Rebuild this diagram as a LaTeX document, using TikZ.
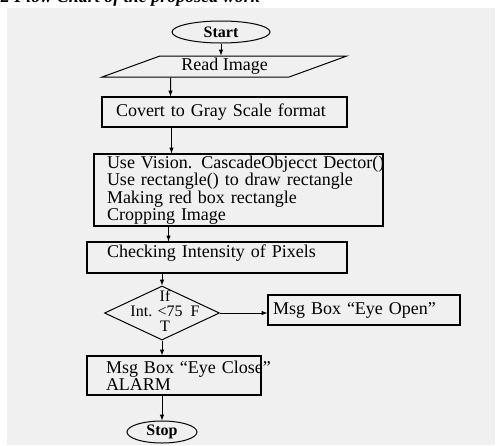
\documentclass[tikz,border=0pt]{standalone}
\usepackage{fontspec}
\setmainfont{Liberation Serif}
\usetikzlibrary{shapes.geometric}
\definecolor{panel}{RGB}{240,240,240}
\tikzset{
  terminal/.style={draw, ellipse, inner sep=0pt, font=\fontsize{16}{16}\selectfont\bfseries},
  inout/.style={draw, trapezium, trapezium left angle=23, trapezium right angle=157,
    trapezium stretches=true, inner sep=0pt, font=\fontsize{18}{14}\selectfont},
  process/.style={draw, rectangle, line width=1.2pt, align=left, inner ysep=0pt,
    font=\fontsize{18}{14}\selectfont},
  decision/.style={draw, diamond, inner sep=0pt},
}

\begin{document}
\begin{tikzpicture}[x=1pt, y=-1pt, >=latex, line width=1pt]
      \useasboundingbox (0,0) rectangle (503,445);
      \fill[panel] (7,8) rectangle (495,445);
      \node [anchor=base west, font=\fontsize{18}{18}\selectfont\bfseries\itshape] (0) at (-3,2) {2 Flow Chart of the proposed work};

      \node [terminal, minimum width=98pt, minimum height=22pt] (1) at (221,32) {Start};
      \node [inout, minimum width=245pt, minimum height=21pt] (2) at (224.5,66.5) {Read Image};
      \node [process, minimum height=30pt, inner xsep=14pt, text width=217pt] (3) at (224.5,112) {\mbox{Covert to Gray Scale format}};
      \node [process, minimum height=72pt, inner xsep=13pt, text width=263pt] (4) at (238.5,190)
        {\mbox{Use Vision. CascadeObjecct Dector()}\\Use rectangle() to draw rectangle\\Making red box rectangle\\Cropping Image};
      \node [process, minimum height=31pt, inner xsep=20pt, text width=220pt, text depth=12pt] (5) at (217,257.5) {Checking Intensity of Pixels};
      \node [decision, minimum width=115pt, minimum height=54pt] (6) at (162,313) {};
      \node [align=center, font=\fontsize{16}{15}\selectfont] (6a) at (165,311) {If\\Int. <75\enspace F\\T};
      \node [process, minimum height=30pt, inner xsep=5pt, text width=182pt] (7) at (364,310) {Msg Box “Eye Open”};
      \node [process, minimum height=39pt, inner xsep=19pt, text width=136pt] (8) at (174,375.5) {\mbox{Msg Box “Eye Close”}\\ALARM};
      \node [terminal, minimum width=70pt, minimum height=22pt] (9) at (162,432) {Stop};

      \draw[->] (1) -- (1 |- 2.north);
      \draw[->] ([xshift=-54pt]2.south) -- ([xshift=-54pt]3.north);
      \draw[->] ([xshift=-53pt]3.south) -- ([xshift=-53pt]3.south |- 4.north);
      \draw[->] ([xshift=-70pt]4.south) -- ([xshift=-70pt]4.south |- 5.north);
      \draw[->] (6.north |- 5.south) -- (6.north);
      \draw[->] (6.east) -- (6.east -| 7.west);
      \draw[->] (6.south) -- (6.south |- 8.north);
      \draw[->] (9.north |- 8.south) -- (9.north);
    \end{tikzpicture}
\end{document}
